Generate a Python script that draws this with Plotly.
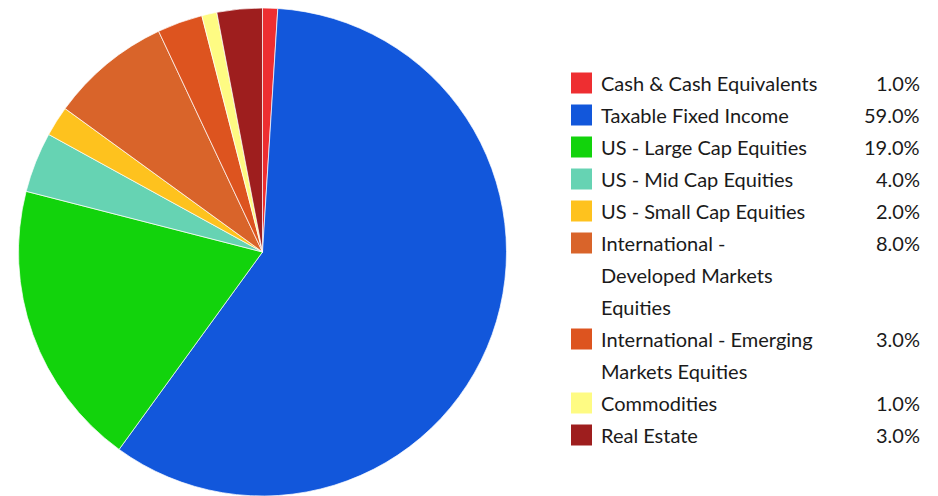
import plotly.graph_objects as go

categories = ["Cash & Cash Equivalents", "Taxable Fixed Income", "US - Large Cap Equities",
              "US - Mid Cap Equities", "US - Small Cap Equities",
              "International - Developed Markets Equities",
              "International - Emerging Markets Equities", "Commodities", "Real Estate"]
legend_lines = [["Cash & Cash Equivalents"], ["Taxable Fixed Income"], ["US - Large Cap Equities"],
                ["US - Mid Cap Equities"], ["US - Small Cap Equities"],
                ["International -", "Developed Markets", "Equities"],
                ["International - Emerging", "Markets Equities"], ["Commodities"], ["Real Estate"]]
values = [1.0, 59.0, 19.0, 4.0, 2.0, 8.0, 3.0, 1.0, 3.0]
colors = ["#EE2E31", "#1257DB", "#12D30C", "#66D3B3", "#FEC21E", "#D9642A", "#DD541F", "#FEFB83", "#9E1E1E"]

# page has an 8px body margin; figure coordinates = page coordinates - 8
OFF = 8
W, H = 930, 488
fig = go.Figure()
fig.add_trace(go.Pie(
    labels=categories, values=values, sort=False, direction="clockwise", rotation=0,
    marker=dict(colors=colors, line=dict(color="rgba(255,255,255,0.7)", width=1)),
    textinfo="none", hoverinfo="label+percent", showlegend=False,
    domain=dict(x=[(18 - OFF) / W, (507 - OFF) / W], y=[0, 1]),
))

font = dict(family="Lato, sans-serif", size=20, color="#1a1a1a")
row_h = 32
y0 = 83 - OFF
row = 0
shapes = []
annotations = []
for i, lines in enumerate(legend_lines):
    yc = y0 + row * row_h
    shapes.append(dict(type="rect", xref="paper", yref="paper",
                       x0=(571 - OFF) / W, x1=(592 - OFF) / W,
                       y0=1 - (yc - 10.5) / H, y1=1 - (yc + 10.5) / H,
                       fillcolor=colors[i], line=dict(width=0)))
    annotations.append(dict(xref="paper", yref="paper", x=(922 - OFF) / W, y=1 - yc / H,
                            xanchor="right", yanchor="middle", showarrow=False,
                            text=f"{values[i]:.1f}%", font=font))
    for j, ln in enumerate(lines):
        yl = yc + j * row_h
        annotations.append(dict(xref="paper", yref="paper", x=(599 - OFF) / W, y=1 - yl / H,
                                xanchor="left", yanchor="middle", showarrow=False,
                                text=ln, font=font))
    row += len(lines)

fig.update_layout(width=W, height=H, margin=dict(l=0, r=0, t=0, b=0),
                  paper_bgcolor="white", plot_bgcolor="white",
                  shapes=shapes, annotations=annotations)
fig.write_html("out.html")
